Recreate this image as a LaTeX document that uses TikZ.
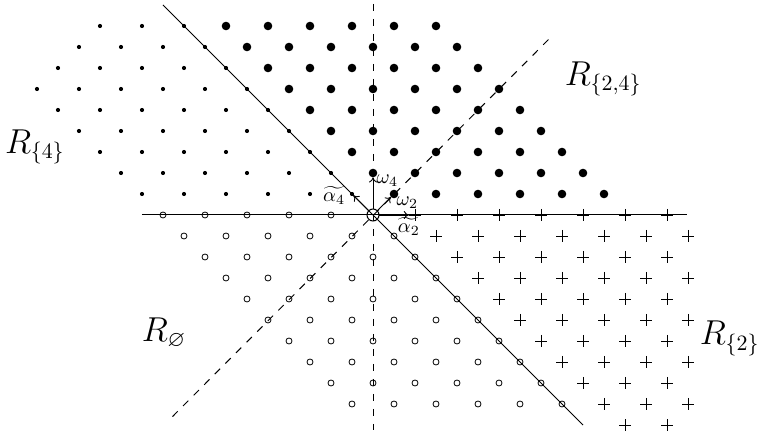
\documentclass[tikz,border=0pt]{standalone}
\usepackage{amssymb}
\usetikzlibrary{arrows.meta}
\begin{document}
\begin{tikzpicture}[x=10.5pt,y=10.5pt,
  every node/.style={inner sep=0pt,outer sep=0pt},
  smalldot/.style={circle,fill=black,minimum size=2.1pt},
  bigdot/.style={circle,fill=black,minimum size=4.3pt},
  ring/.style={circle,draw=black,line width=0.4pt,minimum size=3pt},
  bigring/.style={circle,draw=black,line width=0.5pt,minimum size=6pt},
  plusmark/.style={minimum size=6pt,
    path picture={\draw[line width=0.45pt] (path picture bounding box.west)--(path picture bounding box.east)
      (path picture bounding box.north)--(path picture bounding box.south);}},
  axis/.style={line width=0.5pt},
  dashaxis/.style={line width=0.5pt,dash pattern=on 3.75pt off 3.75pt},
  vec/.style={line width=0.45pt,-{To[length=2.6pt,width=4pt]}},
  lbl/.style={font=\normalsize},
  region/.style={font=\fontsize{16}{19}\selectfont,anchor=base west}
]
\useasboundingbox (-17.762,-10.333) rectangle (18.476,10.238);

% lines
\coordinate (h1) at (-11,0);
\coordinate (h2) at (14.95,0);
\coordinate (s1) at (-10,10);
\coordinate (s2) at (10,-10);
\coordinate (v1) at (0,10.05);
\coordinate (v2) at (0,-10.25);
\coordinate (d1) at (-9.55,-9.6);
\coordinate (d2) at (8.55,8.55);
\draw[axis] (h1) -- (h2);
\draw[axis] (s1) -- (s2);
\draw[dashaxis] (v1) -- (v2);
\draw[dashaxis] (d1) -- (d2);

% R_{2,4}: big dots
\foreach \n in {1,...,9}{
  \pgfmathtruncatemacro\lo{-\n+2}
  \pgfmathtruncatemacro\lob{-\n+4}
  \pgfmathtruncatemacro\hi{12-\n}
  \foreach \m in {\lo,\lob,...,\hi}{
    \pgfmathtruncatemacro\i{\m+20}\pgfmathtruncatemacro\j{\n+20}
    \node[bigdot] (p-\i-\j) at (\m,\n) {};
  }
}
% R_{4}: small dots
\foreach \n in {1,...,9}{
  \pgfmathtruncatemacro\lo{-16+abs(\n-6)}
  \pgfmathtruncatemacro\lob{\lo+2}
  \pgfmathtruncatemacro\hi{-\n}
  \foreach \m in {\lo,\lob,...,\hi}{
    \pgfmathtruncatemacro\i{\m+20}\pgfmathtruncatemacro\j{\n+20}
    \node[smalldot] (p-\i-\j) at (\m,\n) {};
  }
}
% R_empty: rings
\foreach \m in {-10,-8,...,-2}{
  \pgfmathtruncatemacro\i{\m+20}
  \node[ring] (p-\i-20) at (\m,0) {};
}
\foreach \n in {-1,...,-9}{
  \pgfmathtruncatemacro\lo{-10-\n}
  \pgfmathtruncatemacro\lob{\lo+2}
  \pgfmathtruncatemacro\hi{-\n}
  \foreach \m in {\lo,\lob,...,\hi}{
    \pgfmathtruncatemacro\i{\m+20}\pgfmathtruncatemacro\j{\n+20}
    \node[ring] (p-\i-\j) at (\m,\n) {};
  }
}
% R_{2}: plus marks
\foreach \m in {2,4,...,14}{
  \pgfmathtruncatemacro\i{\m+20}
  \node[plusmark] (p-\i-20) at (\m,0) {};
}
\foreach \n in {-1,...,-10}{
  \pgfmathtruncatemacro\lo{-\n+2}
  \pgfmathtruncatemacro\lob{\lo+2}
  \pgfmathtruncatemacro\hi{14+mod(abs(\n),2)}
  \foreach \m in {\lo,\lob,...,\hi}{
    \pgfmathtruncatemacro\i{\m+20}\pgfmathtruncatemacro\j{\n+20}
    \node[plusmark] (p-\i-\j) at (\m,\n) {};
  }
}
% origin
\node[bigring] (o) at (0,0) {};

% vectors
\draw[vec] (o) -- (p-20-22);
\draw[vec] (o) -- (p-21-21);
\draw[vec] (o) -- (p-19-21);
\draw[vec] (o) -- (p-22-20);

% vector labels
\node[lbl,anchor=base west] (lw4) at (0.17,1.5) {$\omega_4$};
\node[lbl,anchor=base west] (lw2) at (1.13,0.47) {$\omega_2$};
\node[lbl,anchor=base west] (la4) at (-2.37,0.63) {$\widetilde{\alpha_4}$};
\node[lbl,anchor=base west] (la2) at (1.19,-0.83) {$\widetilde{\alpha_2}$};

% region labels
\node[region] (r24) at (9.14,6.19) {$R_{\{2,4\}}$};
\node[region] (r4) at (-17.52,2.95) {$R_{\{4\}}$};
\node[region] (r0) at (-11.01,-6.03) {$R_{\varnothing}$};
\node[region] (r2) at (15.57,-6.19) {$R_{\{2\}}$};
\end{tikzpicture}
\end{document}
